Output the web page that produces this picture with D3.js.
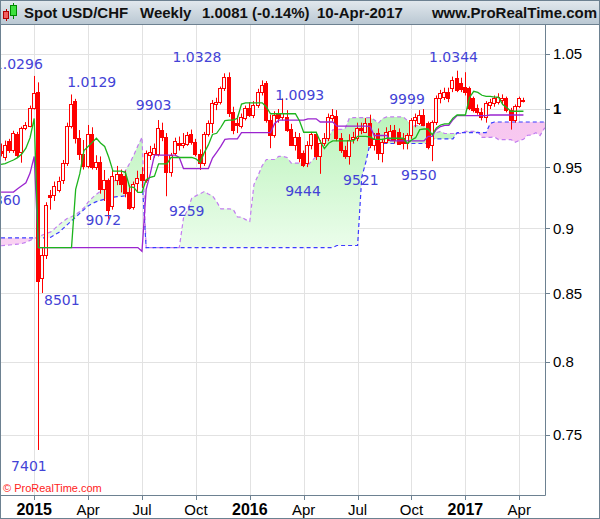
<!DOCTYPE html>
<html><head><meta charset="utf-8">
<script src="https://cdn.jsdelivr.net/npm/d3@7"></script>
<style>html,body{margin:0;padding:0;background:#fff;}svg{display:block;}</style>
</head><body>
<svg id="chart" width="600" height="519"></svg>
<script>
// ---- DATA (weekly bars, index 0 = week of 5-Jan-2015) ----
const firstBar = -8;
const opens = [0.9640,0.9585,0.9720,0.9645,0.9780,0.9630,0.9833,0.9855,
1.0005,1.0150,0.8612,0.8790,0.9270,0.9265,0.9310,0.9393,0.9535,0.9855,
1.0070,0.9745,0.9612,0.9510,0.9785,0.9505,0.9540,0.9320,0.9395,0.9180,
0.9393,0.9443,0.9426,0.9297,0.9174,0.9370,0.9440,0.9390,0.9605,0.9610,
0.9610,0.9816,0.9753,0.9455,0.9620,0.9705,0.9690,0.9696,0.9782,0.9710,
0.9610,0.9532,0.9782,0.9875,1.0041,1.0065,1.0184,1.0290,0.9976,0.9880,
0.9850,0.9918,1.0006,0.9947,1.0035,1.0154,1.0230,0.9903,0.9773,0.9962,
0.9930,0.9932,0.9825,0.9687,0.9760,0.9620,0.9533,0.9687,0.9782,0.9590,
0.9706,0.9750,0.9925,0.9940,0.9747,0.9645,0.9590,0.9736,0.9747,0.9834,
0.9803,0.9875,0.9687,0.9790,0.9617,0.9715,0.9730,0.9816,0.9800,0.9747,
0.9703,0.9773,0.9903,0.9880,0.9947,0.9875,0.9690,0.9889,1.0095,1.0110,
1.0153,1.0184,1.0275,1.0230,1.0199,1.0184,1.0095,1.0006,0.9976,0.9932,
1.0035,1.0050,1.0062,1.0080,1.0095,0.9991,0.9903,1.0030,1.0068];
const highs = [0.9700,0.9725,0.9740,0.9810,0.9800,0.9845,0.9885,1.0030,
1.0296,1.0238,0.8850,0.9210,0.9310,0.9380,0.9420,0.9560,0.9880,1.0129,
1.0090,0.9816,0.9730,0.9860,0.9840,0.9600,0.9590,0.9476,0.9405,0.9480,
0.9510,0.9480,0.9470,0.9350,0.9380,0.9470,0.9500,0.9640,0.9680,0.9700,
0.9903,0.9880,0.9790,0.9620,0.9750,0.9760,0.9790,0.9800,0.9820,0.9740,
0.9650,0.9800,0.9900,1.0080,1.0100,1.0200,1.0320,1.0328,1.0020,0.9940,
0.9960,1.0030,1.0060,1.0070,1.0180,1.0256,1.0250,0.9950,0.9980,1.0000,
1.0093,0.9990,0.9870,0.9800,0.9790,0.9640,0.9720,0.9800,0.9800,0.9730,
0.9790,0.9960,1.0000,0.9990,0.9790,0.9680,0.9780,0.9800,0.9880,0.9880,
0.9920,0.9950,0.9790,0.9830,0.9740,0.9840,0.9860,0.9860,0.9830,0.9790,
0.9790,0.9920,0.9960,0.9990,0.9999,0.9890,0.9900,1.0120,1.0170,1.0190,
1.0190,1.0290,1.0344,1.0280,1.0330,1.0200,1.0110,1.0040,1.0010,1.0070,
1.0090,1.0120,1.0140,1.0130,1.0110,1.0010,1.0040,1.0110,1.0100];
const lows = [0.9590,0.9555,0.9620,0.9620,0.9580,0.9537,0.9815,0.9840,
0.9995,0.7401,0.8501,0.8760,0.9150,0.9220,0.9290,0.9360,0.9510,0.9830,
0.9700,0.9560,0.9480,0.9490,0.9480,0.9476,0.9280,0.9220,0.9072,0.9150,
0.9350,0.9290,0.9250,0.9150,0.9150,0.9290,0.9330,0.9370,0.9560,0.9580,
0.9590,0.9720,0.9259,0.9420,0.9600,0.9640,0.9660,0.9680,0.9690,0.9590,
0.9476,0.9510,0.9760,0.9790,0.9990,1.0040,1.0160,0.9930,0.9780,0.9790,
0.9830,0.9900,0.9930,0.9920,1.0010,1.0120,0.9880,0.9660,0.9750,0.9880,
0.9900,0.9800,0.9680,0.9640,0.9540,0.9500,0.9500,0.9650,0.9560,0.9444,
0.9680,0.9720,0.9890,0.9720,0.9620,0.9570,0.9521,0.9700,0.9720,0.9780,
0.9790,0.9660,0.9640,0.9560,0.9540,0.9700,0.9720,0.9700,0.9690,0.9650,
0.9650,0.9740,0.9840,0.9860,0.9850,0.9650,0.9550,0.9860,1.0050,1.0080,
1.0060,1.0150,1.0150,1.0150,1.0120,0.9990,0.9970,0.9950,0.9900,0.9880,
1.0000,1.0020,1.0040,1.0040,0.9970,0.9820,0.9880,1.0010,1.0058];
const closes = [0.9620,0.9690,0.9645,0.9790,0.9600,0.9830,0.9860,1.0010,
1.0145,0.8590,0.8790,0.9190,0.9255,0.9340,0.9385,0.9535,0.9855,1.0044,
0.9745,0.9612,0.9510,0.9785,0.9505,0.9540,0.9320,0.9395,0.9150,0.9426,
0.9443,0.9360,0.9283,0.9164,0.9360,0.9410,0.9390,0.9618,0.9630,0.9665,
0.9830,0.9753,0.9455,0.9600,0.9720,0.9690,0.9705,0.9773,0.9710,0.9610,
0.9532,0.9782,0.9875,1.0050,1.0065,1.0184,1.0290,0.9962,0.9816,0.9860,
0.9932,1.0006,0.9947,1.0035,1.0154,1.0214,0.9903,0.9773,0.9947,0.9918,
0.9962,0.9816,0.9687,0.9760,0.9577,0.9518,0.9687,0.9782,0.9590,0.9706,
0.9750,0.9932,0.9947,0.9747,0.9645,0.9590,0.9730,0.9753,0.9834,0.9816,
0.9875,0.9687,0.9736,0.9617,0.9715,0.9803,0.9810,0.9730,0.9700,0.9703,
0.9773,0.9903,0.9932,0.9947,0.9860,0.9672,0.9889,1.0095,1.0140,1.0153,
1.0095,1.0259,1.0169,1.0180,1.0155,1.0006,0.9991,0.9976,0.9932,1.0050,
1.0065,1.0095,1.0110,1.0095,0.9991,0.9903,1.0030,1.0095,1.0081];
// Ichimoku lines
const tenkan = [0.9523,0.9530,0.9545,0.9560,0.9580,0.9610,0.9660,0.9750,
0.9917,0.8849,0.8849,0.8849,0.8849,0.8849,0.8849,0.8849,0.8849,0.8849,
0.9315,0.9445,0.9640,0.9675,0.9710,0.9745,0.9705,0.9675,0.9581,0.9466,
0.9466,0.9466,0.9456,0.9336,0.9331,0.9291,0.9291,0.9395,0.9415,0.9425,
0.9527,0.9527,0.9527,0.9581,0.9581,0.9581,0.9581,0.9581,0.9581,0.9570,
0.9540,0.9620,0.9688,0.9778,0.9788,0.9838,0.9898,0.9902,0.9902,0.9919,
1.0044,1.0054,1.0054,1.0054,1.0054,1.0054,1.0018,0.9958,0.9958,0.9958,
0.9958,0.9958,0.9958,0.9958,0.9895,0.9797,0.9797,0.9797,0.9797,0.9717,
0.9657,0.9702,0.9722,0.9722,0.9722,0.9722,0.9722,0.9722,0.9761,0.9761,
0.9761,0.9756,0.9736,0.9736,0.9736,0.9745,0.9745,0.9745,0.9745,0.9745,
0.9700,0.9730,0.9750,0.9820,0.9825,0.9825,0.9775,0.9835,0.9860,0.9870,
0.9870,0.9920,0.9947,0.9947,0.9947,1.0102,1.0157,1.0147,1.0122,1.0112,
1.0112,1.0105,1.0105,1.0040,1.0010,0.9980,0.9980,0.9980,0.9980];
const kijun = [0.9293,0.9293,0.9293,0.9293,0.9320,0.9345,0.9370,0.9450,
0.9590,0.8849,0.8849,0.8849,0.8849,0.8849,0.8849,0.8849,0.8849,0.8849,
0.8849,0.8849,0.8849,0.8849,0.8849,0.8849,0.8849,0.8849,0.8849,0.8849,
0.8849,0.8849,0.8849,0.8849,0.8849,0.8849,0.8820,0.9315,0.9445,0.9601,
0.9601,0.9601,0.9601,0.9601,0.9601,0.9581,0.9488,0.9488,0.9488,0.9488,
0.9488,0.9488,0.9488,0.9576,0.9625,0.9675,0.9735,0.9739,0.9739,0.9739,
0.9794,0.9794,0.9794,0.9794,0.9794,0.9794,0.9794,0.9794,0.9874,0.9902,
0.9902,0.9902,0.9902,0.9902,0.9902,0.9902,0.9914,0.9914,0.9914,0.9886,
0.9886,0.9886,0.9886,0.9850,0.9850,0.9850,0.9850,0.9850,0.9850,0.9850,
0.9850,0.9847,0.9769,0.9769,0.9769,0.9769,0.9722,0.9722,0.9722,0.9722,
0.9722,0.9722,0.9722,0.9722,0.9722,0.9761,0.9761,0.9821,0.9846,0.9856,
0.9856,0.9906,0.9942,0.9942,0.9942,0.9942,0.9942,0.9942,0.9942,0.9942,
0.9947,0.9947,0.9947,0.9947,0.9947,0.9947,0.9947,0.9947,0.9947];
// Senkou spans, plotted from bar -8 to bar 124
const spanA = [0.8863,0.8866,0.8869,0.8872,0.8875,0.8880,0.8890,0.8905,
0.8920,0.8935,0.8948,0.8960,0.8972,0.9000,0.9030,0.9055,0.9080,0.9093,
0.9110,0.9135,0.9165,0.9210,0.9246,0.9275,0.9300,0.9330,0.9360,0.9380,
0.9400,0.9430,0.9470,0.9530,0.9600,0.9680,0.9754,0.8849,0.8849,0.8849,
0.8849,0.8849,0.8849,0.8849,0.8849,0.8849,0.9082,0.9147,0.9244,0.9262,
0.9279,0.9297,0.9277,0.9262,0.9215,0.9157,0.9157,0.9157,0.9152,0.9092,
0.9090,0.9070,0.9055,0.9355,0.9430,0.9513,0.9564,0.9564,0.9564,0.9591,
0.9591,0.9581,0.9534,0.9534,0.9534,0.9529,0.9514,0.9554,0.9588,0.9677,
0.9707,0.9757,0.9817,0.9821,0.9821,0.9829,0.9919,0.9924,0.9924,0.9924,
0.9924,0.9924,0.9906,0.9876,0.9916,0.9930,0.9930,0.9930,0.9930,0.9930,
0.9899,0.9849,0.9855,0.9855,0.9855,0.9802,0.9772,0.9794,0.9804,0.9786,
0.9786,0.9786,0.9786,0.9786,0.9805,0.9805,0.9805,0.9801,0.9752,0.9752,
0.9752,0.9757,0.9734,0.9734,0.9734,0.9734,0.9711,0.9726,0.9736,0.9771,
0.9773,0.9793,0.9768,0.9828,0.9853];
const spanB = [0.8925,0.8925,0.8925,0.8925,0.8925,0.8925,0.8925,0.8925,
0.8925,0.8925,0.8925,0.8925,0.8930,0.8950,0.8970,0.9000,0.9030,0.9060,
0.9090,0.9120,0.9150,0.9180,0.9200,0.9215,0.9225,0.9235,0.9246,0.9250,
0.9255,0.9258,0.9262,0.9290,0.9324,0.9380,0.9407,0.8849,0.8849,0.8849,
0.8849,0.8849,0.8849,0.8849,0.8849,0.8849,0.8849,0.8849,0.8849,0.8849,
0.8849,0.8849,0.8849,0.8849,0.8849,0.8849,0.8849,0.8849,0.8849,0.8849,
0.8849,0.8849,0.8849,0.8849,0.8849,0.8849,0.8849,0.8849,0.8849,0.8849,
0.8849,0.8849,0.8849,0.8849,0.8849,0.8849,0.8849,0.8849,0.8849,0.8849,
0.8849,0.8849,0.8849,0.8865,0.8865,0.8865,0.8865,0.8865,0.8865,0.9415,
0.9544,0.9700,0.9700,0.9700,0.9700,0.9700,0.9700,0.9700,0.9700,0.9700,
0.9700,0.9700,0.9700,0.9700,0.9700,0.9700,0.9739,0.9739,0.9739,0.9739,
0.9739,0.9739,0.9794,0.9794,0.9794,0.9794,0.9794,0.9794,0.9794,0.9794,
0.9874,0.9886,0.9886,0.9886,0.9886,0.9886,0.9886,0.9886,0.9886,0.9886,
0.9886,0.9886,0.9886,0.9886,0.9886];
const yTicks = [0.75,0.8,0.85,0.9,0.95,1,1.05];
const yTickLabels = ["0.75","0.8","0.85","0.9","0.95","1","1.05"];
const xTickBars = [0,13,26,39,52,65,78,91,104,117];
const xTickLabels = ["2015","Apr","Jul","Oct","2016","Apr","Jul","Oct","2017","Apr"];
const xTickIsYear = [true,false,false,false,true,false,false,false,true,false];
const peakTexts = ["1.0296","1.0129","9360","8501","7401","9072","9903","9259","1.0328","1.0093","9444","9521","9999","9550","1.0344"];
const peakBars = [-3.83,13.87,-7.55,6.66,-1.28,16.69,28.82,36.78,39.27,64.04,64.83,78.77,89.92,92.79,101.13];
const peakValues = [1.0359,1.0196,0.9188,0.8411,0.7262,0.9023,0.9991,0.9095,1.0424,1.0080,0.9257,0.9351,1.0044,0.9393,1.0424];

// ---- DRAWING ----
const svg = d3.select("#chart");
const W = 600, H = 519;
const P = {left:0, right:545, top:24, bottom:495};
const x = d3.scaleLinear().domain([-8.25, 123.2]).range([P.left, P.right]);
const y = d3.scaleLog().domain([0.71128, 1.07791]).range([P.bottom, P.top]);
const frame = "#6d8191";
const axFont = "'Liberation Sans', Arial, Helvetica, sans-serif";

const defs = svg.append("defs");
const gh = defs.append("linearGradient").attr("id","hdr").attr("x1",0).attr("y1",0).attr("x2",0).attr("y2",1);
gh.append("stop").attr("offset","0%").attr("stop-color","#e3e9ee");
gh.append("stop").attr("offset","100%").attr("stop-color","#bac8d3");
const gg = defs.append("linearGradient").attr("id","cloudG").attr("gradientUnits","userSpaceOnUse")
  .attr("x1",0).attr("y1",110).attr("x2",0).attr("y2",250);
gg.append("stop").attr("offset","0%").attr("stop-color","#b9f3b9");
gg.append("stop").attr("offset","100%").attr("stop-color","#ecfdec");
const gp = defs.append("linearGradient").attr("id","cloudP").attr("gradientUnits","userSpaceOnUse")
  .attr("x1",0).attr("y1",115).attr("x2",0).attr("y2",250);
gp.append("stop").attr("offset","0%").attr("stop-color","#f7c6ef");
gp.append("stop").attr("offset","100%").attr("stop-color","#f9d2f3");
defs.append("clipPath").attr("id","plotClip").append("rect")
  .attr("x",P.left).attr("y",P.top).attr("width",P.right-P.left).attr("height",P.bottom-P.top);

svg.append("rect").attr("width",W).attr("height",H).attr("fill","#ffffff");

const plotG = svg.append("g").attr("clip-path","url(#plotClip)");

// grid
plotG.selectAll(".vg").data(xTickBars).join("line")
  .attr("x1",d=>Math.round(x(d))+0.5).attr("x2",d=>Math.round(x(d))+0.5)
  .attr("y1",P.top).attr("y2",P.bottom).attr("stroke","#e2e2e2").attr("stroke-width",1);
plotG.selectAll(".hg").data(yTicks).join("line")
  .attr("y1",d=>Math.round(y(d))+0.5).attr("y2",d=>Math.round(y(d))+0.5)
  .attr("x1",P.left).attr("x2",P.right).attr("stroke","#e2e2e2").attr("stroke-width",1);

// cloud
const cloud = spanA.map((a,k)=>({bar:firstBar+k, a:a, b:spanB[k]}));
const areaAB = d3.area().x(d=>x(d.bar)).y0(d=>y(d.b)).y1(d=>y(d.a));
const areaUp = d3.area().x(d=>x(d.bar)).y0(d=>y(d.b)).y1(P.top-10);
const areaDn = d3.area().x(d=>x(d.bar)).y0(d=>y(d.b)).y1(P.bottom+10);
defs.append("clipPath").attr("id","upB").append("path").attr("d",areaUp(cloud));
defs.append("clipPath").attr("id","dnB").append("path").attr("d",areaDn(cloud));
plotG.append("g").attr("clip-path","url(#upB)").append("path")
  .attr("d",areaAB(cloud)).attr("fill","url(#cloudG)");
plotG.append("g").attr("clip-path","url(#dnB)").append("path")
  .attr("d",areaAB(cloud)).attr("fill","url(#cloudP)");
const lineA = d3.line().x(d=>x(d.bar)).y(d=>y(d.a));
const lineB = d3.line().x(d=>x(d.bar)).y(d=>y(d.b));
plotG.append("path").attr("d",lineA(cloud)).attr("fill","none")
  .attr("stroke","#c27cf0").attr("stroke-width",1.2).attr("stroke-dasharray","4,3");
plotG.append("path").attr("d",lineB(cloud)).attr("fill","none")
  .attr("stroke","#3c3cff").attr("stroke-width",1.2).attr("stroke-dasharray","4,3");

// candles
const bars = opens.map((o,k)=>({bar:firstBar+k, o:o, h:highs[k], l:lows[k], c:closes[k]}));
const red = "#ff0000";
plotG.selectAll(".wick").data(bars).join("line")
  .attr("x1",d=>Math.floor(x(d.bar))+0.5).attr("x2",d=>Math.floor(x(d.bar))+0.5)
  .attr("y1",d=>y(d.h)).attr("y2",d=>y(d.l)).attr("stroke",red).attr("stroke-width",1);
plotG.selectAll(".body").data(bars).join("rect")
  .attr("x",d=>Math.floor(x(d.bar))-1.5).attr("width",3)
  .attr("y",d=>Math.round(y(Math.max(d.o,d.c)))+0.5)
  .attr("height",d=>Math.max(1,Math.round(y(Math.min(d.o,d.c)))-Math.round(y(Math.max(d.o,d.c)))))
  .attr("fill",d=>d.c>=d.o?"#fbfbfb":red).attr("stroke",red).attr("stroke-width",1);

// tenkan / kijun
const tk = tenkan.map((v,k)=>({bar:firstBar+k, v:v}));
const kj = kijun.map((v,k)=>({bar:firstBar+k, v:v}));
const lineV = d3.line().x(d=>x(d.bar)).y(d=>y(d.v));
plotG.append("path").attr("d",lineV(kj)).attr("fill","none").attr("stroke","#9b24cf").attr("stroke-width",1.3);
plotG.append("path").attr("d",lineV(tk)).attr("fill","none").attr("stroke","#1db41d").attr("stroke-width",1.3);

// peak labels
plotG.selectAll(".pk").data(peakTexts).join("text")
  .attr("x",(d,k)=>x(peakBars[k])).attr("y",(d,k)=>y(peakValues[k]))
  .attr("text-anchor","middle").attr("font-family","'DejaVu Sans', Verdana, sans-serif")
  .attr("font-size",14).attr("fill","#4343d6").text(d=>d);

// copyright
svg.append("text").attr("x",3).attr("y",492).attr("font-family",axFont).attr("font-size",11)
  .attr("fill","#ff2222").text("\u00a9 ProRealTime.com");

// axes frame
svg.append("line").attr("x1",0).attr("x2",P.right+0.5).attr("y1",P.bottom+0.5).attr("y2",P.bottom+0.5).attr("stroke",frame);
svg.append("line").attr("x1",P.right+0.5).attr("x2",P.right+0.5).attr("y1",P.top).attr("y2",P.bottom+0.5).attr("stroke",frame);
// y axis ticks + labels
svg.selectAll(".yt").data(yTicks).join("line")
  .attr("x1",P.right).attr("x2",P.right+5)
  .attr("y1",d=>Math.round(y(d))+0.5).attr("y2",d=>Math.round(y(d))+0.5).attr("stroke",frame);
svg.selectAll(".yl").data(yTicks).join("text")
  .attr("x",P.right+8).attr("y",d=>y(d)).attr("dy","0.36em")
  .attr("font-family",axFont).attr("font-size",15).attr("fill","#000")
  .attr("font-weight",(d,k)=>yTickLabels[k]==="1"?"bold":"normal")
  .text((d,k)=>yTickLabels[k]);
// x axis ticks + labels
svg.selectAll(".xt").data(xTickBars).join("line")
  .attr("x1",d=>Math.round(x(d))+0.5).attr("x2",d=>Math.round(x(d))+0.5)
  .attr("y1",P.bottom).attr("y2",P.bottom+5).attr("stroke",frame);
svg.selectAll(".xl").data(xTickBars).join("text")
  .attr("x",d=>x(d)).attr("y",515).attr("text-anchor","middle")
  .attr("font-family",axFont)
  .attr("font-size",(d,k)=>xTickIsYear[k]?16:15)
  .attr("font-weight",(d,k)=>xTickIsYear[k]?"bold":"normal")
  .attr("fill","#000").text((d,k)=>xTickLabels[k]);

// header
svg.append("rect").attr("x",0).attr("y",0).attr("width",W).attr("height",P.top).attr("fill","url(#hdr)");
svg.append("line").attr("x1",0).attr("x2",W).attr("y1",P.top+0.5).attr("y2",P.top+0.5).attr("stroke",frame);
// small candle icon
const ic = svg.append("g");
ic.append("line").attr("x1",6.5).attr("x2",6.5).attr("y1",9).attr("y2",21).attr("stroke","#b00000");
ic.append("rect").attr("x",3.5).attr("y",11.5).attr("width",5).attr("height",7).attr("fill","#f06060").attr("stroke","#b00000");
ic.append("line").attr("x1",13.5).attr("x2",13.5).attr("y1",3).attr("y2",19).attr("stroke","#008800");
ic.append("rect").attr("x",10.5).attr("y",5.5).attr("width",6).attr("height",10).attr("fill","#3ee03e").attr("stroke","#008800");
const hdrTexts = [["Spot USD/CHF",24,"start"],["Weekly",140,"start"],["1.0081 (-0.14%)",202,"start"],["10-Apr-2017",317,"start"],["www.ProRealTime.com",597,"end"]];
svg.selectAll(".ht").data(hdrTexts).join("text")
  .attr("x",d=>d[1]).attr("y",17.5).attr("text-anchor",d=>d[2])
  .attr("font-family",axFont).attr("font-size",15).attr("font-weight","bold").attr("fill","#111")
  .text(d=>d[0]);

// outer frame
svg.append("rect").attr("x",0.5).attr("y",0.5).attr("width",W-1).attr("height",H-1)
  .attr("fill","none").attr("stroke",frame);
</script>
</body></html>
